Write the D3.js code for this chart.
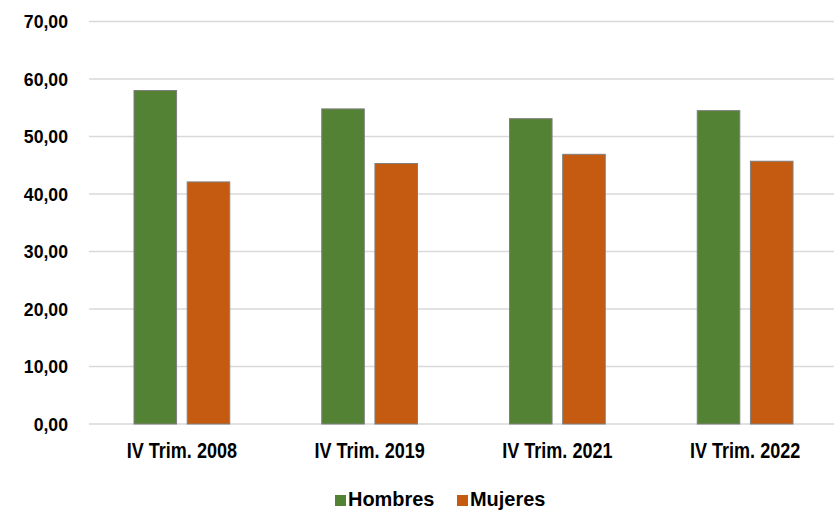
<!DOCTYPE html>
<html lang="es">
<head>
    <meta charset="UTF-8">
    <title>Hombres y Mujeres</title>
    <script src="https://d3js.org/d3.v7.min.js"></script>
    <style>
        body { margin: 0; background: #fff; }
        text { font-family: "Liberation Sans Narrow", "Arial Narrow", "Liberation Sans", sans-serif; font-weight: bold; fill: #000; }
    </style>
</head>
<body>
    <svg width="834" height="512" id="chart"></svg>

    <script>
        // Data
        const categories = ["IV Trim. 2008", "IV Trim. 2019", "IV Trim. 2021", "IV Trim. 2022"];
        const seriesNames = ["Hombres", "Mujeres"];
        const hombres = [58.0, 54.8, 53.1, 54.5];
        const mujeres = [42.1, 45.3, 46.9, 45.7];
        const yTicks = [0, 10, 20, 30, 40, 50, 60, 70];

        const colors = { Hombres: "#548235", Mujeres: "#c55a11" };
        const svg = d3.select("#chart");

        // Scales
        const x0 = d3.scaleBand()
            .domain(categories)
            .range([88, 839])
            .paddingInner(0.49)
            .paddingOuter(0.245);

        const x1 = d3.scaleBand()
            .domain(seriesNames)
            .range([0, x0.bandwidth()])
            .paddingInner(0.2);

        const y = d3.scaleLinear().domain([0, 70]).range([424, 21.5]);

        // Gridlines
        svg.append("g")
            .selectAll("line")
            .data(yTicks)
            .join("line")
            .attr("x1", 89)
            .attr("x2", 834)
            .attr("y1", d => y(d))
            .attr("y2", d => y(d))
            .attr("stroke", "#d9d9d9")
            .attr("stroke-width", 1.5);

        // Y tick labels (no narrow font installed, so squeeze the regular one)
        const fmt = d => d.toFixed(2).replace(".", ",");
        svg.append("g")
            .selectAll("text")
            .data(yTicks)
            .join("text")
            .attr("transform", d => `translate(68,${y(d)}) scale(0.93,1)`)
            .attr("dy", "0.36em")
            .attr("text-anchor", "end")
            .style("font-size", "19px")
            .text(fmt);

        // Bars
        const rows = categories.map((c, i) => ({ cat: c, Hombres: hombres[i], Mujeres: mujeres[i] }));
        svg.append("g")
            .selectAll("g")
            .data(rows)
            .join("g")
            .attr("transform", d => `translate(${x0(d.cat)},0)`)
            .selectAll("rect")
            .data(d => seriesNames.map(s => ({ s, v: d[s] })))
            .join("rect")
            .attr("x", d => x1(d.s))
            .attr("y", d => y(d.v))
            .attr("width", x1.bandwidth())
            .attr("height", d => y(0) - y(d.v))
            .attr("fill", d => colors[d.s])
            .attr("stroke", "#7f7f7f")
            .attr("stroke-width", 1);

        // X labels
        svg.append("g")
            .selectAll("text")
            .data(categories)
            .join("text")
            .attr("transform", d => `translate(${x0(d) + x0.bandwidth() / 2},458) scale(0.82,1)`)
            .attr("text-anchor", "middle")
            .style("font-size", "22px")
            .text(d => d);

        // Legend
        const legendItems = [
            { name: "Hombres", x: 335 },
            { name: "Mujeres", x: 457 }
        ];
        const lg = svg.append("g")
            .selectAll("g")
            .data(legendItems)
            .join("g")
            .attr("transform", d => `translate(${d.x},0)`);
        lg.append("rect")
            .attr("x", 0)
            .attr("y", 495)
            .attr("width", 11)
            .attr("height", 11)
            .attr("fill", d => colors[d.name]);
        lg.append("text")
            .attr("transform", "translate(13,506) scale(0.95,1)")
            .style("font-size", "21px")
            .text(d => d.name);
    </script>
</body>
</html>
